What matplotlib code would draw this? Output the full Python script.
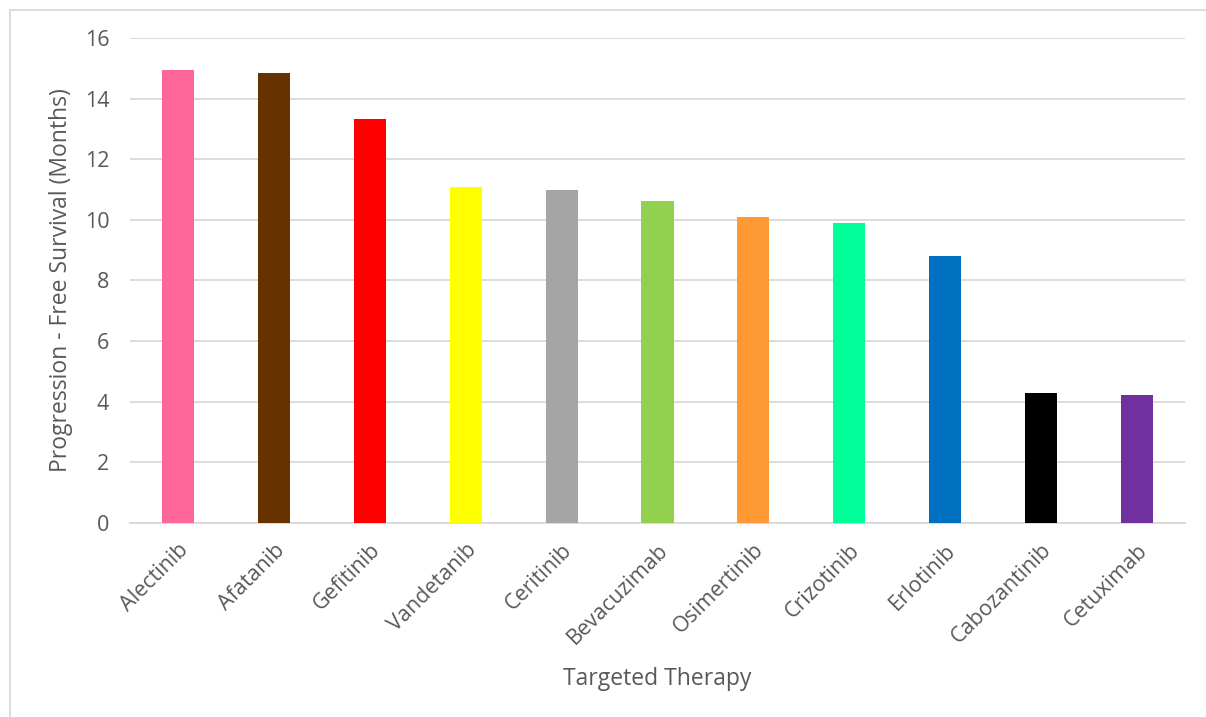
import matplotlib.pyplot as plt
from matplotlib.lines import Line2D

drugs = ["Alectinib", "Afatanib", "Gefitinib", "Vandetanib", "Ceritinib",
         "Bevacuzimab", "Osimertinib", "Crizotinib", "Erlotinib",
         "Cabozantinib", "Cetuximab"]
pfs_months = [14.95, 14.85, 13.33, 11.1, 11.0, 10.62, 10.1, 9.9, 8.82, 4.3, 4.23]
bar_colors = ["#ff6699", "#663300", "#ff0000", "#ffff00", "#a5a5a5",
              "#92d050", "#ff9933", "#00ff99", "#0070c0", "#000000", "#7030a0"]
yticks = [0, 2, 4, 6, 8, 10, 12, 14, 16]

plt.rcParams['font.family'] = ['Open Sans', 'DejaVu Sans']
text_color = "#595959"
grid_color = "#d9d9d9"

fig = plt.figure(figsize=(12.06, 7.17), dpi=100)
ax = fig.add_axes([0.1078, 0.2706, 0.8748, 0.6764])

x = range(len(drugs))
ax.bar(x, pfs_months, width=0.335, color=bar_colors, zorder=3)

ax.set_xlim(-0.5, len(drugs) - 0.5)
ax.set_ylim(0, 16)
ax.set_yticks(yticks)
ax.yaxis.grid(True, color=grid_color, linewidth=1.3, zorder=0)
ax.set_axisbelow(True)

for side in ["top", "right", "left"]:
    ax.spines[side].set_visible(False)
ax.spines["bottom"].set_color(grid_color)
ax.spines["bottom"].set_linewidth(1.3)

ax.set_xticks(list(x))
ax.set_xticklabels(drugs, rotation=45, ha="right", rotation_mode="anchor",
                   fontsize=15.5, color=text_color)
ax.tick_params(axis="x", length=0, pad=12)
ax.tick_params(axis="y", length=0, pad=15, labelsize=15.5, labelcolor=text_color)

ax.set_xlabel("Targeted Therapy", fontsize=16.5, color=text_color, labelpad=13)
ax.set_ylabel("Progression - Free Survival (Months)", fontsize=16.5,
              color=text_color, labelpad=8)

# light chart-area frame (top and left edges)
fig.add_artist(Line2D([9.5 / 1206, 1.0], [1 - 9.5 / 717, 1 - 9.5 / 717],
                      transform=fig.transFigure, color=grid_color, linewidth=1.3))
fig.add_artist(Line2D([9.5 / 1206, 9.5 / 1206], [0.0, 1 - 9.5 / 717],
                      transform=fig.transFigure, color=grid_color, linewidth=1.3))

fig.savefig("out.png", dpi=100, facecolor="white")
